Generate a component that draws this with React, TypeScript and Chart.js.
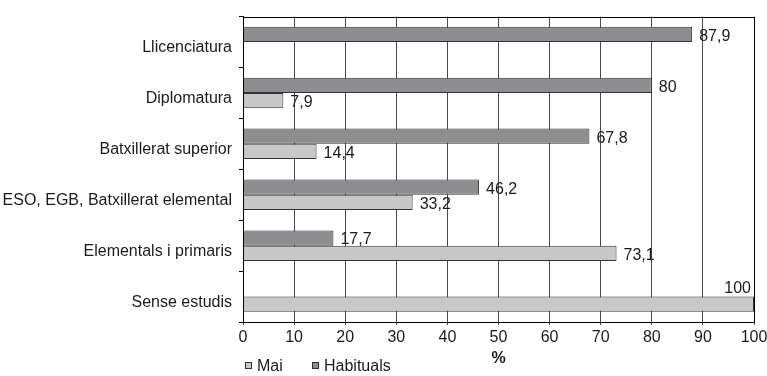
import React, { useEffect, useRef } from "react";
import { Chart, registerables } from "chart.js";

Chart.register(...registerables);

const categories = [
  "Llicenciatura",
  "Diplomatura",
  "Batxillerat superior",
  "ESO, EGB, Batxillerat elemental",
  "Elementals i primaris",
  "Sense estudis",
];
const habituals: (number | null)[] = [87.9, 80, 67.8, 46.2, 17.7, null];
const mai: (number | null)[] = [null, 7.9, 14.4, 33.2, 73.1, 100];
const xTicks = [0, 10, 20, 30, 40, 50, 60, 70, 80, 90, 100];

const FONT = "'Liberation Sans', Arial, sans-serif";
const FS = 16;
const HAB_COLOR = "#8e8e90";
const MAI_COLOR = "#c8c8c8";
const EDGE = "#333333";
const TEXT = "#1a1a1a";

const labelPlugin = {
  id: "valueLabels",
  afterDatasetsDraw(chart: any) {
    const ctx = chart.ctx;
    const area = chart.chartArea;
    ctx.save();
    ctx.font = `${FS}px ${FONT}`;
    ctx.fillStyle = TEXT;
    ctx.textBaseline = "middle";
    chart.data.datasets.forEach((ds: any, di: number) => {
      const meta = chart.getDatasetMeta(di);
      meta.data.forEach((el: any, i: number) => {
        const v = ds.data[i];
        if (v === null || v === undefined) return;
        const text = String(v).replace(".", ",");
        const w = ctx.measureText(text).width;
        const x = el.x + 7;
        if (x + w > chart.width) {
          ctx.textAlign = "right";
          ctx.fillText(text, area.right - 3, el.y - el.height);
        } else {
          ctx.textAlign = "left";
          ctx.fillText(text, x, el.y + 2);
        }
      });
    });
    // plot box
    ctx.strokeStyle = "#000";
    ctx.lineWidth = 1;
    ctx.strokeRect(
      Math.round(area.left) + 0.5,
      Math.round(area.top) + 0.5,
      Math.round(area.right - area.left),
      Math.round(area.bottom - area.top)
    );
    // legend (Mai first, then Habituals)
    const items = [
      { label: chart.data.datasets[1].label, color: MAI_COLOR, x: 245 },
      { label: chart.data.datasets[0].label, color: HAB_COLOR, x: 312 },
    ];
    const ly = 366;
    items.forEach((it) => {
      ctx.fillStyle = it.color;
      ctx.fillRect(it.x + 0.5, ly - 3.5, 6, 6);
      ctx.strokeStyle = EDGE;
      ctx.strokeRect(it.x + 0.5, ly - 3.5, 6, 6);
      ctx.fillStyle = TEXT;
      ctx.textAlign = "left";
      ctx.fillText(it.label, it.x + 12, ly + 1);
    });
    ctx.restore();
  },
};

export default function App() {
  const ref = useRef<HTMLCanvasElement>(null);
  useEffect(() => {
    document.body.style.margin = "0";
    const chart = new Chart(ref.current!, {
      type: "bar",
      data: {
        labels: categories,
        datasets: [
          {
            label: "Habituals",
            data: habituals,
            backgroundColor: HAB_COLOR,
            borderColor: EDGE,
            borderWidth: 1,
            categoryPercentage: 0.6,
            barPercentage: 1,
          },
          {
            label: "Mai",
            data: mai,
            backgroundColor: MAI_COLOR,
            borderColor: EDGE,
            borderWidth: 1,
            categoryPercentage: 0.6,
            barPercentage: 1,
          },
        ],
      },
      options: {
        indexAxis: "y",
        responsive: false,
        animation: false,
        layout: { padding: { top: 8, right: 0, left: 0, bottom: 8 } },
        plugins: {
          legend: { display: false },
          tooltip: { enabled: false },
        },
        scales: {
          x: {
            min: 0,
            max: 100,
            afterBuildTicks: (scale: any) => {
              scale.ticks = xTicks.map((v) => ({ value: v }));
            },
            afterFit: (scale: any) => {
              scale.height = 46;
              scale.paddingRight = 13;
              scale.paddingLeft = 0;
            },
            ticks: {
              font: { family: FONT, size: FS },
              color: TEXT,
              padding: 3,
              maxRotation: 0,
            },
            grid: {
              color: "#4a4a4a",
              lineWidth: 1,
              tickLength: 3,
            },
            border: { display: true, color: "#000" },
            title: {
              display: true,
              text: "%",
              font: { family: FONT, size: FS, weight: "bold" },
              color: TEXT,
              padding: { top: 0, bottom: 0 },
            },
          },
          y: {
            afterFit: (scale: any) => {
              scale.width = 243;
            },
            ticks: {
              font: { family: FONT, size: FS },
              color: TEXT,
              padding: 7,
              labelOffset: 6,
            },
            grid: {
              display: true,
              drawOnChartArea: false,
              color: "#000",
              tickLength: 4,
            },
            border: { display: true, color: "#000" },
          },
        },
      },
      plugins: [labelPlugin],
    } as any);
    return () => chart.destroy();
  }, []);
  return (
    <div style={{ width: 767, height: 376 }}>
      <canvas ref={ref} width={767} height={376} />
    </div>
  );
}
